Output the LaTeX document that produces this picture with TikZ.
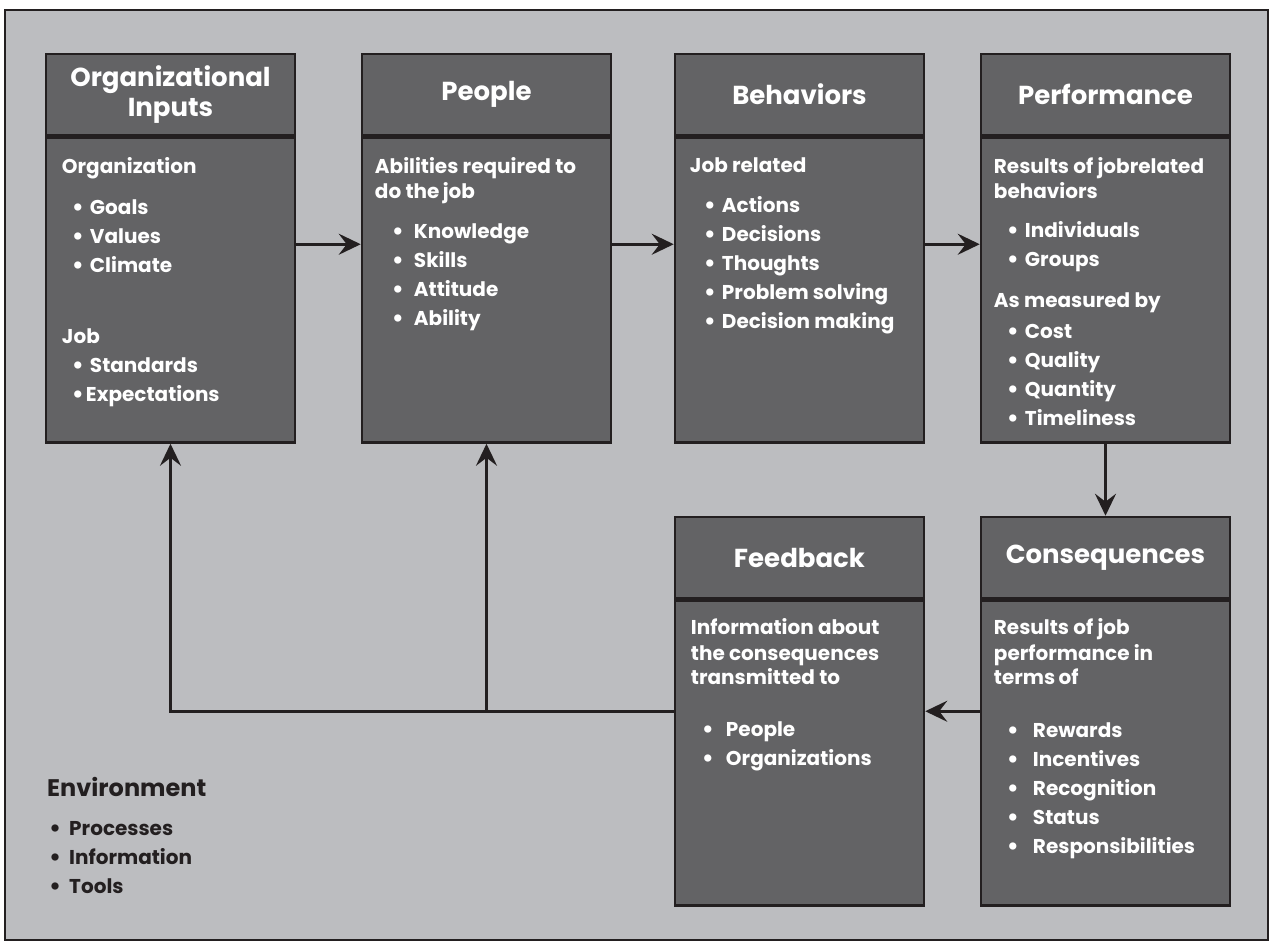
\documentclass[tikz,border=0pt]{standalone}
\usepackage{fontspec}
\setmainfont{Poppins}
\usetikzlibrary{arrows.meta, positioning}
\usepackage{xcolor}
\definecolor{envgray}{RGB}{188,189,192}
\definecolor{boxgray}{RGB}{99,99,101}
\definecolor{inkblack}{RGB}{35,31,32}
\newcommand{\bul}[2][6pt]{\raisebox{-1.5pt}{\fontsize{24}{0}\selectfont\textbullet}\hspace{#1}#2}

\begin{document}
\begin{tikzpicture}[
x=1pt, y=-1pt,
head/.style={draw=inkblack,
fill=boxgray,
line width=2.5pt,
minimum width=249pt,
minimum height=81pt,
inner sep=0pt,
text=white,
font=\bfseries\fontsize{26}{30}\selectfont,
align=center},
body/.style={draw=inkblack,
fill=boxgray,
line width=2.5pt,
minimum width=249pt,
minimum height=305pt,
inner sep=0pt},
txt/.style={anchor=north west,
inner sep=0pt,
text=white,
font=\bfseries\fontsize{20}{29}\selectfont,
align=left},
arrow/.style={-{Stealth[length=22pt, width=21pt, inset=8pt]}, line width=3pt, draw=inkblack}
]

\useasboundingbox (0,0) rectangle (1270,941);
\draw[draw=inkblack, line width=2pt, fill=envgray] (5,10) rectangle (1268,940);

% top row
\node[head] (orghead) at (170.5,94.5) {Organizational\\Inputs};
\node[body, below=0pt of orghead] (orgbody) {};
\node[head] (pplhead) at (486.5,94.5) {People};
\node[body, below=0pt of pplhead] (pplbody) {};
\node[head] (behhead) at (799.5,94.5) {Behaviors};
\node[body, below=0pt of behhead] (behbody) {};
\node[head] (perfhead) at (1105.5,94.5) {Performance};
\node[body, below=0pt of perfhead] (perfbody) {};

% bottom row
\node[head] (fbhead) at (799.5,557.5) {Feedback};
\node[body, below=0pt of fbhead] (fbbody) {};
\node[head] (conshead) at (1105.5,557.5) {Consequences};
\node[body, below=0pt of conshead] (consbody) {};

% box texts
\node[txt] (orgtxt) at ([xshift=17pt, yshift=-21pt]orgbody.north west) {Organization\\[12pt]
\hspace*{10pt}\bul{Goals}\\
\hspace*{10pt}\bul{Values}\\
\hspace*{10pt}\bul{Climate}\\[42pt]
Job\\
\hspace*{10pt}\bul{Standards}\\
\hspace*{10pt}\bul[2pt]{Expectations}};
\node[txt] (ppltxt) at ([xshift=14pt, yshift=-21pt]pplbody.north west) {Abilities required to\\[-4pt]
do the\,job\\[11pt]
\hspace*{17pt}\bul[10pt]{Knowledge}\\
\hspace*{17pt}\bul[10pt]{Skills}\\
\hspace*{17pt}\bul[10pt]{Attitude}\\
\hspace*{17pt}\bul[10pt]{Ability}};
\node[txt] (behtxt) at ([xshift=16pt, yshift=-21pt]behbody.north west) {Job related\\[11pt]
\hspace*{14pt}\bul{Actions}\\
\hspace*{14pt}\bul{Decisions}\\
\hspace*{14pt}\bul{Thoughts}\\
\hspace*{14pt}\bul{Problem solving}\\
\hspace*{14pt}\bul{Decision making}};
\node[txt] (perftxt) at ([xshift=14pt, yshift=-21pt]perfbody.north west) {Results of jobrelated\\[-4pt]
behaviors\\[10pt]
\hspace*{13pt}\bul{Individuals}\\
\hspace*{13pt}\bul{Groups}\\[12pt]
As measured by\\[2pt]
\hspace*{13pt}\bul{Cost}\\
\hspace*{13pt}\bul{Quality}\\
\hspace*{13pt}\bul{Quantity}\\
\hspace*{13pt}\bul{Timeliness}};
\node[txt] (fbtxt) at ([xshift=17pt, yshift=-19pt]fbbody.north west) {Information about\\[-3pt]
the consequences\\[-5pt]
transmitted to\\[23pt]
\hspace*{11pt}\bul[12pt]{People}\\
\hspace*{11pt}\bul[12pt]{Organizations}};
\node[txt] (constxt) at ([xshift=14pt, yshift=-19pt]consbody.north west) {Results of job\\[-3pt]
performance in\\[-5pt]
terms\,of\\[24pt]
\hspace*{13pt}\bul[14pt]{Rewards}\\
\hspace*{13pt}\bul[14pt]{Incentives}\\
\hspace*{13pt}\bul[14pt]{Recognition}\\
\hspace*{13pt}\bul[14pt]{Status}\\
\hspace*{13pt}\bul[14pt]{Responsibilities}};

% environment
\node[txt, text=inkblack, font=\bfseries\fontsize{24}{28}\selectfont] (envtitle) at (47,777) {Environment};
\node[txt, text=inkblack, below=24pt of envtitle.south west, anchor=north west] (envlist) {\hspace*{2pt}\bul[8pt]{Processes}\\
\hspace*{2pt}\bul[8pt]{Information}\\
\hspace*{2pt}\bul[8pt]{Tools}};

% flow
\draw[arrow] ([yshift=-108pt]orgbody.north east) -- ([yshift=-108pt]pplbody.north west);
\draw[arrow] ([yshift=-108pt]pplbody.north east) -- ([yshift=-108pt]behbody.north west);
\draw[arrow] ([yshift=-108pt]behbody.north east) -- ([yshift=-108pt]perfbody.north west);
\draw[arrow] (perfbody) -- (conshead);
\draw[arrow] ([yshift=-112pt]consbody.north west) -- ([yshift=-112pt]fbbody.north east);

% feedback loop
\coordinate (fbout) at ([yshift=-112pt]fbbody.north west);
\draw[arrow] (fbout) -| (orgbody.south);
\draw[arrow] (fbout -| pplbody.south) -- (pplbody.south);

\end{tikzpicture}
\end{document}
